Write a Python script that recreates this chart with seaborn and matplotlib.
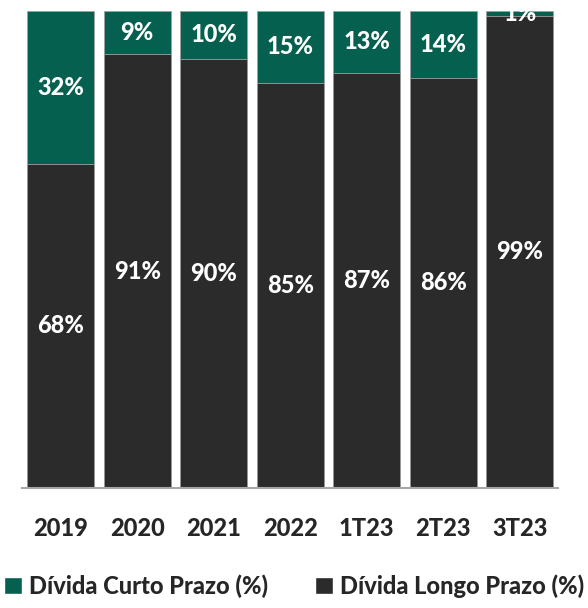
import pandas as pd
import matplotlib.pyplot as plt
import seaborn as sns
from matplotlib.patches import Patch

#Chart data
periods = ['2019', '2020', '2021', '2022', '1T23', '2T23', '3T23']
curto_prazo = [32, 9, 10, 15, 13, 14, 1]
longo_prazo = [68, 91, 90, 85, 87, 86, 99]

green = '#06604f'
dark = '#2b2b2b'

df = pd.DataFrame({'Periodo': periods, 'Curto': curto_prazo, 'Longo': longo_prazo})
df['Total'] = df['Curto'] + df['Longo']

sns.set_style('white')
plt.rcParams['font.family'] = ['Lato', 'DejaVu Sans']

fig = plt.figure(figsize=(5.88, 6.08), dpi=100)
ax = fig.add_axes([0.038, 0.197, 0.911, 0.785])

#Stacked bars: total in green, long term drawn over it
sns.barplot(x='Periodo', y='Total', data=df, color=green, width=0.875, ax=ax,
            edgecolor='#a0a0a0', linewidth=0.6, saturation=1)
sns.barplot(x='Periodo', y='Longo', data=df, color=dark, width=0.875, ax=ax,
            edgecolor='#a0a0a0', linewidth=0.6, saturation=1)

ax.set(xlim=(-0.5, 6.5), ylim=(0, 100), xlabel='', ylabel='')
ax.set_yticks([])
for s in ['top', 'left', 'right']:
    ax.spines[s].set_visible(False)
ax.spines['bottom'].set_color('#a6a6a6')
ax.spines['bottom'].set_linewidth(1.5)
ax.tick_params(axis='x', length=0, pad=21, labelsize=17)
for lbl in ax.get_xticklabels():
    lbl.set_fontweight('black')

#Value labels in the middle of each segment
for i in df.index:
    lp = df.Longo[i]
    cp = df.Curto[i]
    ax.text(i, lp / 2, f'{lp}%', ha='center', va='center', color='white',
            fontsize=17, fontweight='black', clip_on=False)
    ax.text(i, lp + cp / 2, f'{cp}%', ha='center', va='center', color='white',
            fontsize=17, fontweight='black', clip_on=False)

handles = [Patch(facecolor=green, label='Dívida Curto Prazo (%)'),
           Patch(facecolor=dark, label='Dívida Longo Prazo (%)')]
fig.legend(handles=handles, loc='center', bbox_to_anchor=(0.5, 0.036), ncol=2,
           frameon=False, handlelength=0.75, handleheight=0.75, handletextpad=0.3,
           columnspacing=2.0, prop={'size': 17, 'weight': 'black'}, borderaxespad=0)

fig.savefig('out.png', dpi=100)
